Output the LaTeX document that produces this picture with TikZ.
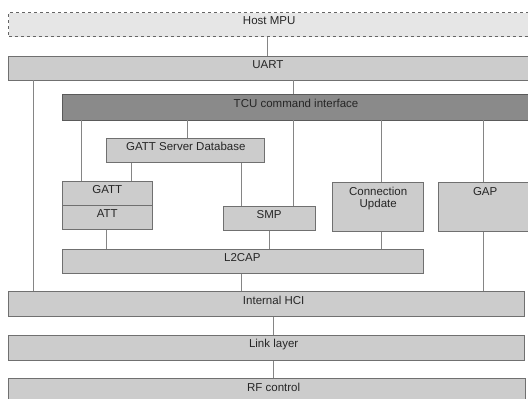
\documentclass[tikz,border=0pt]{standalone}
\usepackage{fontspec}
\setmainfont{Liberation Sans}
\definecolor{boxfill}{HTML}{CCCCCC}
\definecolor{hostfill}{HTML}{E6E6E6}
\definecolor{tcufill}{HTML}{8A8A8A}
\definecolor{edge}{HTML}{707070}
\definecolor{wire}{HTML}{858585}
\begin{document}
\begin{tikzpicture}[x=1pt,y=-1pt,
  layer/.style={draw=edge, line width=0.9pt, fill=boxfill, inner sep=0pt},
  ttl/.style={anchor=north, inner sep=0pt, text height=9pt, text depth=3pt,
    font=\fontsize{11.5}{12.8}\selectfont, text=black!85, align=center, yshift=-3.6pt},
  wirestyle/.style={draw=wire, line width=0.8pt}]
\useasboundingbox (0,0) rectangle (528,399);
\clip (0,0) rectangle (528,399);
% boxes
\node[layer, fill=hostfill, dashed, draw=edge!90!black, minimum width=527pt, minimum height=24.3pt, anchor=north west,
  label={[ttl, xshift=-3.2pt]north:Host MPU}] (host) at (8.4,12.1) {};
\node[layer, minimum width=527pt, minimum height=23.6pt, anchor=north west,
  label={[ttl, xshift=-4.5pt]north:UART}] (uart) at (8.4,55.9) {};
\node[layer, fill=tcufill, draw=edge!80!black, minimum width=474pt, minimum height=25.2pt, anchor=north west,
  label={[ttl, xshift=-3pt]north:TCU command interface}] (tcu) at (61.6,94.3) {};
\node[layer, minimum width=157.9pt, minimum height=24.6pt, anchor=north west,
  label={[ttl]north:GATT Server Database}] (gsd) at (106.4,137.5) {};
\node[layer, minimum width=89.7pt, minimum height=23.5pt, anchor=north west,
  label={[ttl]north:GATT}] (gatt) at (62,181) {};
\node[layer, minimum width=89.7pt, minimum height=24.5pt, anchor=north west,
  label={[ttl]north:ATT}] (att) at (62,204.5) {};
\node[layer, minimum width=91.6pt, minimum height=24.5pt, anchor=north west,
  label={[ttl]north:SMP}] (smp) at (222.9,205.5) {};
\node[layer, minimum width=90.9pt, minimum height=48.7pt, anchor=north west,
  label={[ttl, text height=, text depth=, yshift=-0.6pt]north:Connection\\Update}] (cu) at (332.3,182.3) {};
\node[layer, minimum width=96.6pt, minimum height=48.7pt, anchor=north west,
  label={[ttl, xshift=-2pt]north:GAP}] (gap) at (438.4,182.3) {};
\node[layer, minimum width=361.6pt, minimum height=23.8pt, anchor=north west,
  label={[ttl, xshift=-0.5pt]north:L2CAP}] (l2cap) at (61.6,249) {};
\node[layer, minimum width=515.6pt, minimum height=24.3pt, anchor=north west,
  label={[ttl, xshift=7pt]north:Internal HCI}] (hci) at (8.4,291.3) {};
\node[layer, minimum width=515.6pt, minimum height=25.3pt, anchor=north west,
  label={[ttl, xshift=7pt, yshift=-0.4pt]north:Link layer}] (ll) at (8.4,334.7) {};
\node[layer, minimum width=516.6pt, minimum height=32pt, anchor=north west,
  label={[ttl, xshift=6.5pt, yshift=-1pt]north:RF control}] (rf) at (8.4,377.8) {};
% connectors
\draw[wirestyle] (267,0 |- host.south) -- (267,0 |- uart.north);
\draw[wirestyle] (293.6,0 |- uart.south) -- (293.6,0 |- tcu.north);
\draw[wirestyle] (33,0 |- uart.south) -- (33,0 |- hci.north);
\draw[wirestyle] (81.6,0 |- tcu.south) -- (81.6,0 |- gatt.north);
\draw[wirestyle] (187,0 |- tcu.south) -- (187,0 |- gsd.north);
\draw[wirestyle] (293.6,0 |- tcu.south) -- (293.6,0 |- smp.north);
\draw[wirestyle] (381.5,0 |- tcu.south) -- (381.5,0 |- cu.north);
\draw[wirestyle] (483,0 |- tcu.south) -- (483,0 |- gap.north);
\draw[wirestyle] (131.5,0 |- gsd.south) -- (131.5,0 |- gatt.north);
\draw[wirestyle] (241,0 |- gsd.south) -- (241,0 |- smp.north);
\draw[wirestyle] (106.7,0 |- att.south) -- (106.7,0 |- l2cap.north);
\draw[wirestyle] (269.4,0 |- smp.south) -- (269.4,0 |- l2cap.north);
\draw[wirestyle] (381.5,0 |- cu.south) -- (381.5,0 |- l2cap.north);
\draw[wirestyle] (241,0 |- l2cap.south) -- (241,0 |- hci.north);
\draw[wirestyle] (483,0 |- gap.south) -- (483,0 |- hci.north);
\draw[wirestyle] (273,0 |- hci.south) -- (273,0 |- ll.north);
\draw[wirestyle] (273,0 |- ll.south) -- (273,0 |- rf.north);
\end{tikzpicture}
\end{document}
